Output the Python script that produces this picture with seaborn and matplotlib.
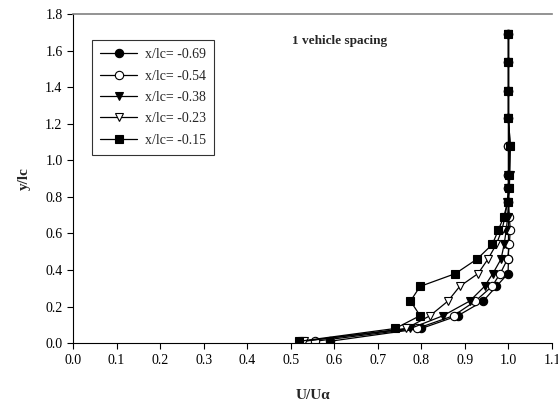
import numpy as np
import pandas as pd
import matplotlib
matplotlib.use('Agg')
import matplotlib.pyplot as plt
import seaborn as sns

# heights where the profiles were measured
y_lc = [0.01, 0.08, 0.15, 0.23, 0.31, 0.38, 0.46, 0.54, 0.62,
        0.69, 0.77, 0.85, 0.92, 1.08, 1.23, 1.38, 1.54, 1.69]

# U/U_alpha for each streamwise station
u_069 = [0.59, 0.80, 0.884, 0.942, 0.972, 0.999, 1.0, 1.0, 1.0,
         1.0, 1.0, 1.0, 1.0, 1.0, 1.0, 1.0, 1.0, 1.0]
u_054 = [0.555, 0.79, 0.874, 0.924, 0.962, 0.981, 0.998, 1.002, 1.004,
         1.002, 1.0, 1.0, 1.0, 1.0, 1.0, 1.0, 1.0, 1.0]
u_038 = [0.525, 0.775, 0.85, 0.911, 0.945, 0.964, 0.983, 0.99, 0.995,
         0.998, 1.0, 1.002, 1.003, 1.004, 1.0, 1.0, 1.0, 1.0]
u_023 = [0.53, 0.765, 0.82, 0.861, 0.888, 0.93, 0.953, 0.972, 0.985,
         0.992, 0.997, 1.0, 1.0, 1.003, 1.0, 1.0, 1.0, 1.0]
u_015 = [0.52, 0.74, 0.797, 0.775, 0.797, 0.878, 0.928, 0.963, 0.977,
         0.989, 0.998, 1.002, 1.002, 1.004, 1.0, 1.0, 1.0, 1.0]

series_labels = ['x/lc= -0.69', 'x/lc= -0.54', 'x/lc= -0.38', 'x/lc= -0.23', 'x/lc= -0.15']
series_values = [u_069, u_054, u_038, u_023, u_015]

marker_styles = ['o', 'o', 'v', 'v', 's']
marker_faces = ['k', 'w', 'k', 'w', 'k']

sns.set_style('ticks')
plt.rcParams['font.family'] = ['Liberation Serif', 'DejaVu Serif']

fig = plt.figure(figsize=(5.58, 4.07), dpi=100)
ax = fig.add_axes([0.1308, 0.157, 0.8585, 0.8086])

for label, vals, mk, fc in zip(series_labels, series_values, marker_styles, marker_faces):
    df = pd.DataFrame({'u': vals, 'y': y_lc})
    # profiles are y -> u, keep the measured order and do not aggregate
    sns.lineplot(data=df, x='u', y='y', sort=False, estimator=None, errorbar=None,
                 ax=ax, color='k', linewidth=0.9, marker=mk, markersize=6,
                 markerfacecolor=fc, markeredgecolor='k', markeredgewidth=0.8,
                 label=label)

ax.set_xlim(0, 1.1)
ax.set_ylim(0, 1.8)
ax.set_xticks(np.arange(0, 1.11, 0.1))
ax.set_yticks(np.arange(0, 1.81, 0.2))
ax.set_xticklabels(['{:.1f}'.format(v) for v in np.arange(0, 1.11, 0.1)])
ax.set_yticklabels(['{:.1f}'.format(v) for v in np.arange(0, 1.81, 0.2)])
ax.tick_params(direction='out', length=4, width=0.8, labelsize=10, colors='k')

ax.set_xlabel('U/U\u03b1', fontsize=11, fontweight='bold', labelpad=16)
ax.set_ylabel('y/lc', fontsize=11, fontweight='bold', labelpad=10)

for side in ['left', 'bottom']:
    ax.spines[side].set_color('k')
    ax.spines[side].set_linewidth(0.8)
ax.spines['top'].set_color('#808080')
ax.spines['top'].set_linewidth(1.2)
ax.spines['right'].set_visible(False)

ax.text(0.557, 0.918, '1 vehicle spacing', transform=ax.transAxes,
        ha='center', va='center', fontsize=9.5, fontweight='bold')

leg = ax.legend(loc='upper left', bbox_to_anchor=(0.04, 0.921), borderaxespad=0,
                frameon=True, fancybox=False, fontsize=10, handlelength=2.6,
                labelspacing=0.6, borderpad=0.6, handletextpad=0.6)
leg.get_frame().set_edgecolor('k')
leg.get_frame().set_linewidth(0.8)

ax.grid(False)
fig.savefig('out.png', dpi=100)
plt.close()
